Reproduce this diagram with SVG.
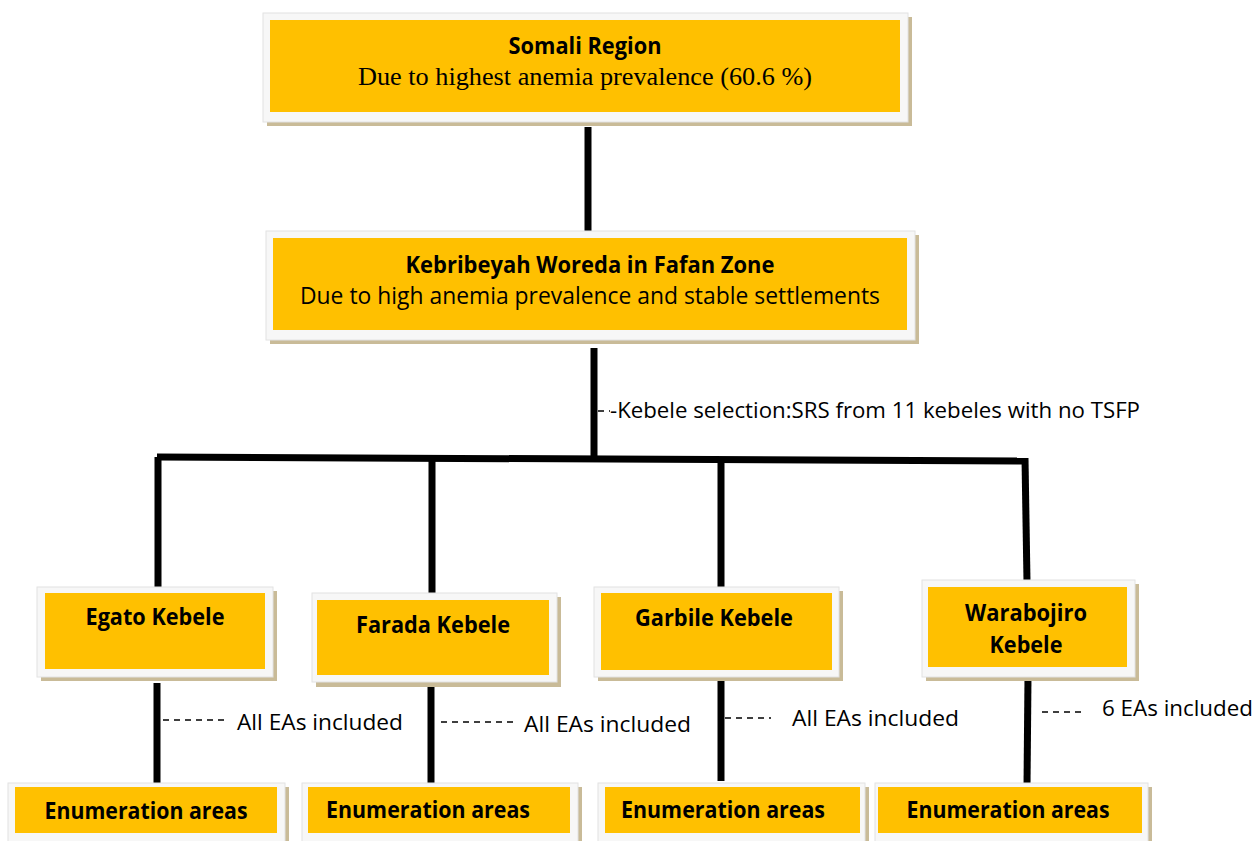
<svg xmlns="http://www.w3.org/2000/svg" width="1256" height="841" viewBox="0 0 1256 841">
<style>
.sh{fill:#c9bb98}
.fr{fill:#f7f7f7;stroke:#e2e2e2;stroke-width:1}
.y{fill:#ffc000}
.b{font-family:"Open Sans",Lato,sans-serif;font-weight:bold;font-size:22.5px;fill:#000;text-anchor:middle}
.r{font-family:"Open Sans",Lato,sans-serif;font-size:23.5px;fill:#000;text-anchor:middle}
.s{font-family:"Liberation Serif",serif;font-size:26px;fill:#000;text-anchor:middle}
.l{font-family:"Open Sans",Lato,sans-serif;font-size:22.5px;fill:#000}
.c{stroke:#000;stroke-width:7;fill:none;stroke-linecap:butt}
.d{stroke:#000;stroke-width:1.5;stroke-dasharray:6,5;fill:none}
</style>
<rect width="1256" height="841" fill="#fff"/>
<g id="connectors">
<line class="c" x1="588" y1="127" x2="588" y2="232"/>
<line class="c" x1="594" y1="348" x2="594" y2="459"/>
<line class="c" x1="157" y1="457" x2="1025" y2="461"/>
<line class="c" x1="158" y1="457" x2="158" y2="587"/>
<line class="c" x1="432" y1="460" x2="432" y2="600"/>
<line class="c" x1="721" y1="460" x2="721" y2="597"/>
<line class="c" x1="1025" y1="458" x2="1027" y2="582"/>
<line class="c" x1="157" y1="683" x2="157" y2="790"/>
<line class="c" x1="431" y1="683" x2="431" y2="788"/>
<line class="c" x1="721" y1="668" x2="721" y2="781"/>
<line class="c" x1="1028" y1="677" x2="1027" y2="786"/>
<line class="d" x1="598" y1="411" x2="610" y2="411" stroke-dasharray="4,3"/>
<line class="d" x1="163" y1="720" x2="228" y2="720"/>
<line class="d" x1="441" y1="722" x2="514" y2="722"/>
<line class="d" x1="725" y1="718" x2="771" y2="718"/>
<line class="d" x1="1042" y1="712" x2="1084" y2="712"/>
<text class="l" x="610" y="418" textLength="530" lengthAdjust="spacingAndGlyphs">-Kebele selection:SRS from 11 kebeles with no TSFP</text>
<text class="l" x="237" y="730" textLength="166" lengthAdjust="spacingAndGlyphs">All EAs included</text>
<text class="l" x="524" y="732" textLength="167" lengthAdjust="spacingAndGlyphs">All EAs included</text>
<text class="l" x="792" y="726" textLength="167" lengthAdjust="spacingAndGlyphs">All EAs included</text>
<text class="l" x="1102" y="716" textLength="151" lengthAdjust="spacingAndGlyphs">6 EAs included</text>
</g>
<g id="somali">
<rect class="sh" x="267" y="17" width="645" height="109"/>
<rect class="fr" x="263" y="13" width="645" height="109"/>
<rect class="y" x="270" y="20" width="630" height="92"/>
<text class="b" x="585" y="54" textLength="153" lengthAdjust="spacingAndGlyphs">Somali Region</text>
<text class="s" x="585" y="85" textLength="454" lengthAdjust="spacingAndGlyphs">Due to highest anemia prevalence (60.6 %)</text>
</g>
<g id="woreda">
<rect class="sh" x="270" y="235" width="649" height="109"/>
<rect class="fr" x="266" y="231" width="649" height="109"/>
<rect class="y" x="273" y="238" width="634" height="92"/>
<text class="b" x="590" y="273" textLength="369" lengthAdjust="spacingAndGlyphs">Kebribeyah Woreda in Fafan Zone</text>
<text class="r" x="590" y="304" textLength="580" lengthAdjust="spacingAndGlyphs">Due to high anemia prevalence and stable settlements</text>
</g>
<g id="egato">
<rect class="sh" x="41" y="591" width="236" height="90"/>
<rect class="fr" x="37" y="587" width="236" height="90"/>
<rect class="y" x="45" y="593" width="220" height="76"/>
<text class="b" x="155" y="625" textLength="139" lengthAdjust="spacingAndGlyphs">Egato Kebele</text>
</g>
<g id="farada">
<rect class="sh" x="316" y="597" width="245" height="90"/>
<rect class="fr" x="312" y="593" width="245" height="89"/>
<rect class="y" x="317" y="600" width="232" height="75"/>
<text class="b" x="433" y="633" textLength="154" lengthAdjust="spacingAndGlyphs">Farada Kebele</text>
</g>
<g id="garbile">
<rect class="sh" x="598" y="591" width="245" height="90"/>
<rect class="fr" x="594" y="587" width="245" height="90"/>
<rect class="y" x="601" y="593" width="231" height="77"/>
<text class="b" x="714" y="626" textLength="158" lengthAdjust="spacingAndGlyphs">Garbile Kebele</text>
</g>
<g id="warabojiro">
<rect class="sh" x="926" y="584" width="213" height="97"/>
<rect class="fr" x="922" y="580" width="213" height="97"/>
<rect class="y" x="928" y="587" width="199" height="80"/>
<text class="b" x="1026" y="621" textLength="122" lengthAdjust="spacingAndGlyphs">Warabojiro</text>
<text class="b" x="1026" y="653" textLength="73" lengthAdjust="spacingAndGlyphs">Kebele</text>
</g>
<g id="ea1">
<rect class="sh" x="12" y="787" width="277" height="60"/>
<rect class="fr" x="8" y="783" width="277" height="60"/>
<rect class="y" x="15" y="787" width="262" height="46"/>
<text class="b" x="146" y="819" textLength="203" lengthAdjust="spacingAndGlyphs">Enumeration areas</text>
</g>
<g id="ea2">
<rect class="sh" x="306" y="787" width="276" height="60"/>
<rect class="fr" x="302" y="783" width="276" height="60"/>
<rect class="y" x="308" y="787" width="262" height="46"/>
<text class="b" x="428" y="818" textLength="204" lengthAdjust="spacingAndGlyphs">Enumeration areas</text>
</g>
<g id="ea3">
<rect class="sh" x="602" y="787" width="267" height="60"/>
<rect class="fr" x="598" y="783" width="267" height="60"/>
<rect class="y" x="605" y="787" width="255" height="46"/>
<text class="b" x="723" y="818" textLength="204" lengthAdjust="spacingAndGlyphs">Enumeration areas</text>
</g>
<g id="ea4">
<rect class="sh" x="879" y="787" width="273" height="60"/>
<rect class="fr" x="875" y="783" width="273" height="60"/>
<rect class="y" x="878" y="787" width="264" height="46"/>
<text class="b" x="1008" y="818" textLength="203" lengthAdjust="spacingAndGlyphs">Enumeration areas</text>
</g>
</svg>
